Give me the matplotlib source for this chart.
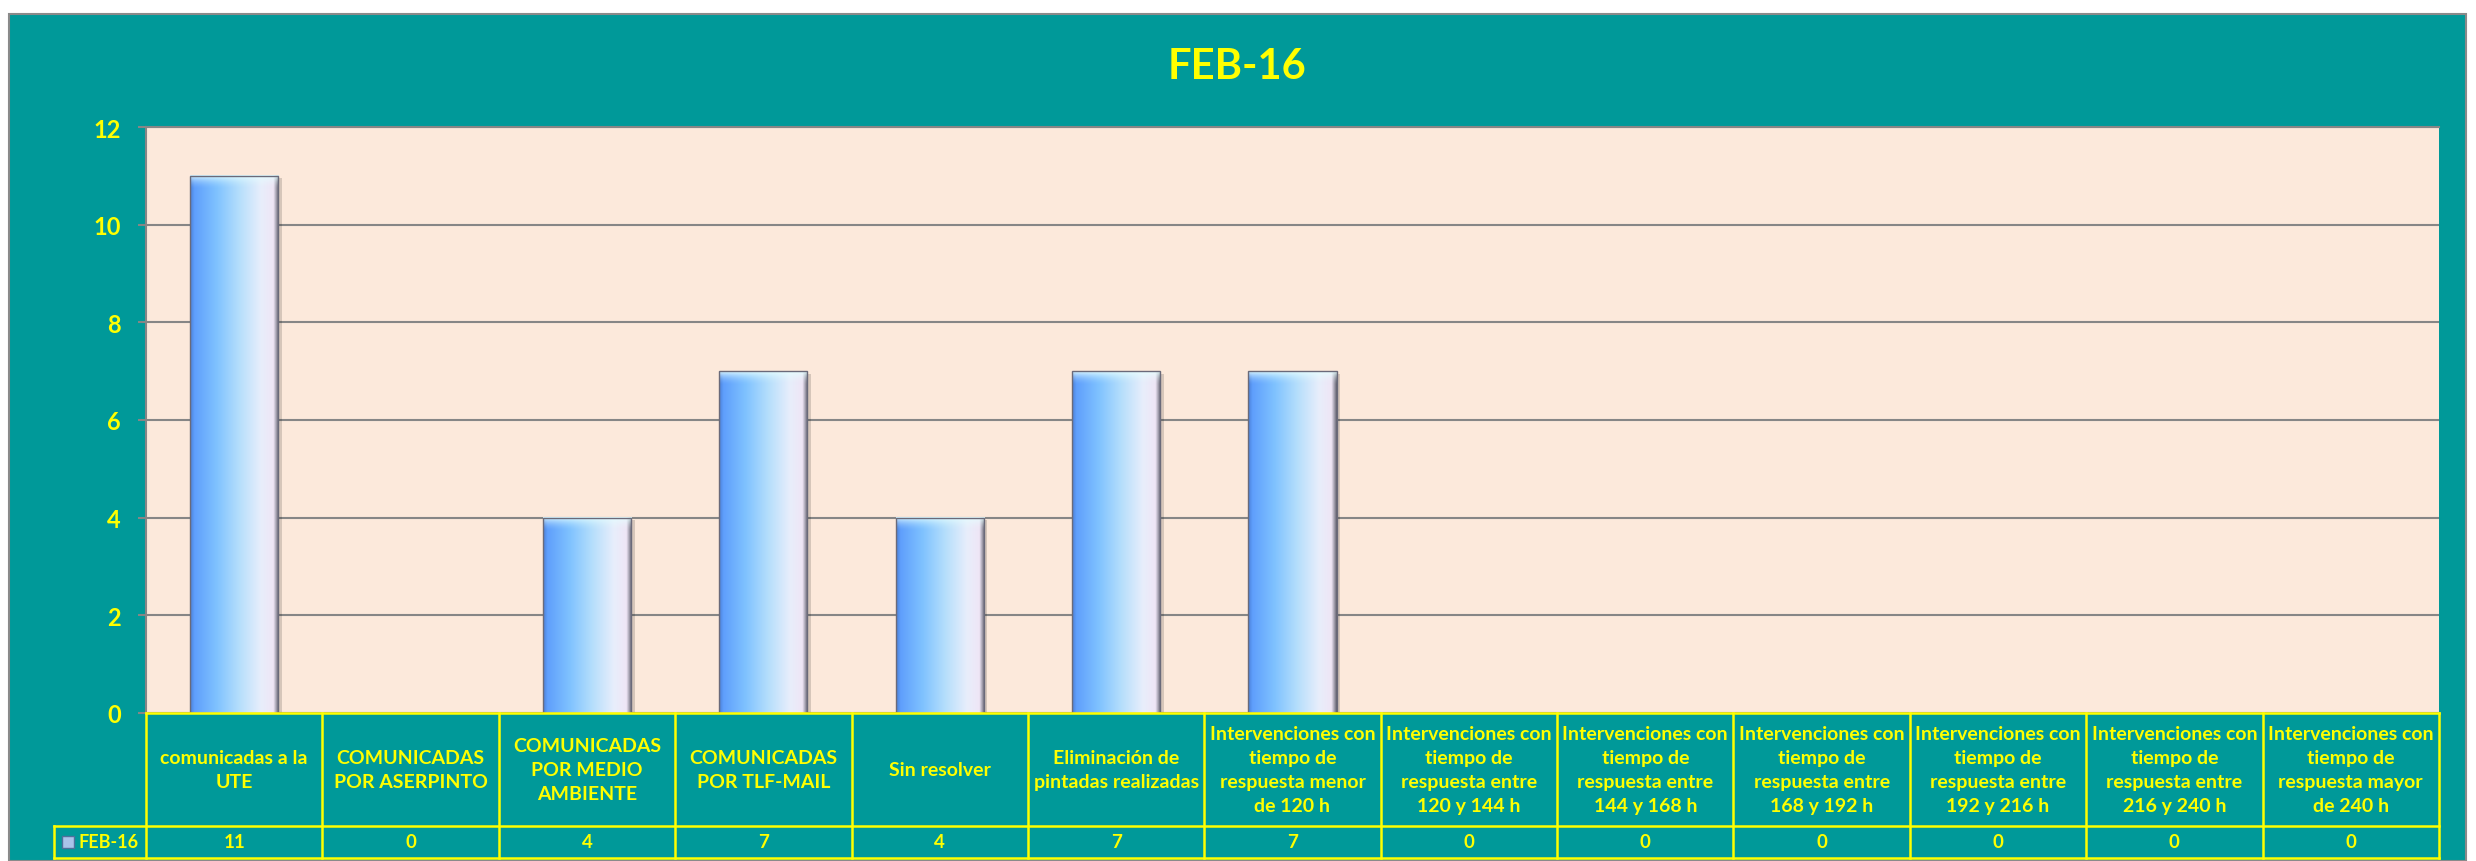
import numpy as np
import matplotlib
matplotlib.use("Agg")
import matplotlib.pyplot as plt
from matplotlib.patches import Rectangle
from matplotlib.colors import LinearSegmentedColormap

# data
categories = [
    "comunicadas a la\nUTE",
    "COMUNICADAS\nPOR ASERPINTO",
    "COMUNICADAS\nPOR MEDIO\nAMBIENTE",
    "COMUNICADAS\nPOR TLF-MAIL",
    "Sin resolver",
    "Eliminación de\npintadas realizadas",
    "Intervenciones con\ntiempo de\nrespuesta menor\nde 120 h",
    "Intervenciones con\ntiempo de\nrespuesta entre\n120 y 144 h",
    "Intervenciones con\ntiempo de\nrespuesta entre\n144 y 168 h",
    "Intervenciones con\ntiempo de\nrespuesta entre\n168 y 192 h",
    "Intervenciones con\ntiempo de\nrespuesta entre\n192 y 216 h",
    "Intervenciones con\ntiempo de\nrespuesta entre\n216 y 240 h",
    "Intervenciones con\ntiempo de\nrespuesta mayor\nde 240 h",
]
values = [11, 0, 4, 7, 4, 7, 7, 0, 0, 0, 0, 0, 0]
series_name = "FEB-16"
title = "FEB-16"
yticks = [0, 2, 4, 6, 8, 10, 12]

TEAL = "#009999"
PEACH = "#FCE9DB"
YELLOW = "#FFFF00"
GRID = "#868686"

plt.rcParams['font.family'] = ['Lato', 'DejaVu Sans']

W, H = 2476, 862
fig = plt.figure(figsize=(W / 100, H / 100), dpi=100)
fig.patch.set_facecolor("white")
fig.patches.append(Rectangle((9 / W, 0), 2457 / W, 847 / H, transform=fig.transFigure,
                             fc=TEAL, ec="#8a8a8a", lw=1.5, zorder=-10))

# plot area (pixel layout of the reference)
L, R, T, B = 146, 2439, 128, 714
ax = fig.add_axes([L / W, (H - B) / H, (R - L) / W, (B - T) / H])
ax.set_facecolor(PEACH)
n = len(values)
x = np.arange(n)

# gradient bars
bar_cmap = LinearSegmentedColormap.from_list("bar", [
    (0.0, "#4a7fd6"), (0.05, "#5f9ffc"), (0.3, "#7fc2ff"), (0.55, "#b4defc"),
    (0.8, "#e8eefb"), (0.94, "#efe6f6"), (1.0, "#5e5e6c")])
grad = np.linspace(0, 1, 256)[np.newaxis, :]
hl = np.zeros((32, 1, 4))
hl[..., 0:3] = [0.9, 1.0, 1.0]
hl[:, 0, 3] = np.linspace(0.0, 0.95, 32) ** 2
bw = 0.5
for xi, v in zip(x, values):
    if v <= 0:
        continue
    ax.add_patch(Rectangle((xi - bw / 2 + 0.02, -0.05), bw, v, fc="black", alpha=0.15,
                           lw=0, zorder=2))
    ax.imshow(grad, cmap=bar_cmap, extent=(xi - bw / 2, xi + bw / 2, 0, v),
              aspect="auto", zorder=3, interpolation="bilinear")
    ax.imshow(hl, extent=(xi - bw / 2, xi + bw / 2, v - 0.3, v), aspect="auto",
              zorder=4, interpolation="bilinear", origin="lower")
    ax.add_patch(Rectangle((xi - bw / 2, 0), bw, v, fill=False, ec="#6a6a7a", lw=1,
                           zorder=4))

ax.set_xlim(-0.5, n - 0.5)
ax.set_ylim(0, 12)
ax.set_yticks(yticks)
ax.set_xticks([])
ax.yaxis.grid(True, color=GRID, lw=1.5)
ax.set_axisbelow(True)
for s in ["right", "bottom"]:
    ax.spines[s].set_visible(False)
for s in ["left", "top"]:
    ax.spines[s].set_color(GRID)
    ax.spines[s].set_linewidth(1.5)
ax.tick_params(axis="y", length=6, width=1.5, color=GRID, labelcolor=YELLOW,
               labelsize=17, pad=12)
for lab in ax.get_yticklabels():
    lab.set_fontweight("bold")

# data table below the plot
tr = ax.get_xaxis_transform()
ph = B - T
col_px = (R - L) / n
hb = -(827 - B) / ph
vb = -(859 - B) / ph
leg_l = -0.5 - (L - 54) / col_px
line_kw = dict(color=YELLOW, lw=1.8, transform=tr, clip_on=False, zorder=6)
ax.plot([-0.5, n - 0.5], [0, 0], **line_kw)
ax.plot([leg_l, n - 0.5], [hb, hb], **line_kw)
ax.plot([leg_l, n - 0.5], [vb, vb], **line_kw)
for i in range(n + 1):
    ax.plot([i - 0.5, i - 0.5], [vb, 0], **line_kw)
ax.plot([leg_l, leg_l], [vb, hb], **line_kw)

for xi, cat, v in zip(x, categories, values):
    ax.text(xi, hb / 2, cat, transform=tr, ha="center", va="center", color=YELLOW,
            fontsize=14, fontweight="bold", linespacing=1.5, clip_on=False)
    ax.text(xi, (hb + vb) / 2, str(v), transform=tr, ha="center", va="center",
            color=YELLOW, fontsize=13.5, fontweight="bold", clip_on=False)

# legend key in the table
mk_x = leg_l + (62 - 54) / col_px
ax.add_patch(Rectangle((mk_x, -(849 - B) / ph), 12 / col_px, 12 / ph, transform=tr,
                       fc="#a9c4ea", ec="#50709c", lw=1, clip_on=False, zorder=6))
ax.text(leg_l + (79 - 54) / col_px, (hb + vb) / 2, series_name, transform=tr,
        ha="left", va="center", color=YELLOW, fontsize=13, fontweight="bold",
        clip_on=False)

fig.text(1237 / W, 1 - 67 / H, title, ha="center", va="center", fontsize=30,
         fontweight="bold", color=YELLOW)

fig.savefig("out.png", dpi=100)
